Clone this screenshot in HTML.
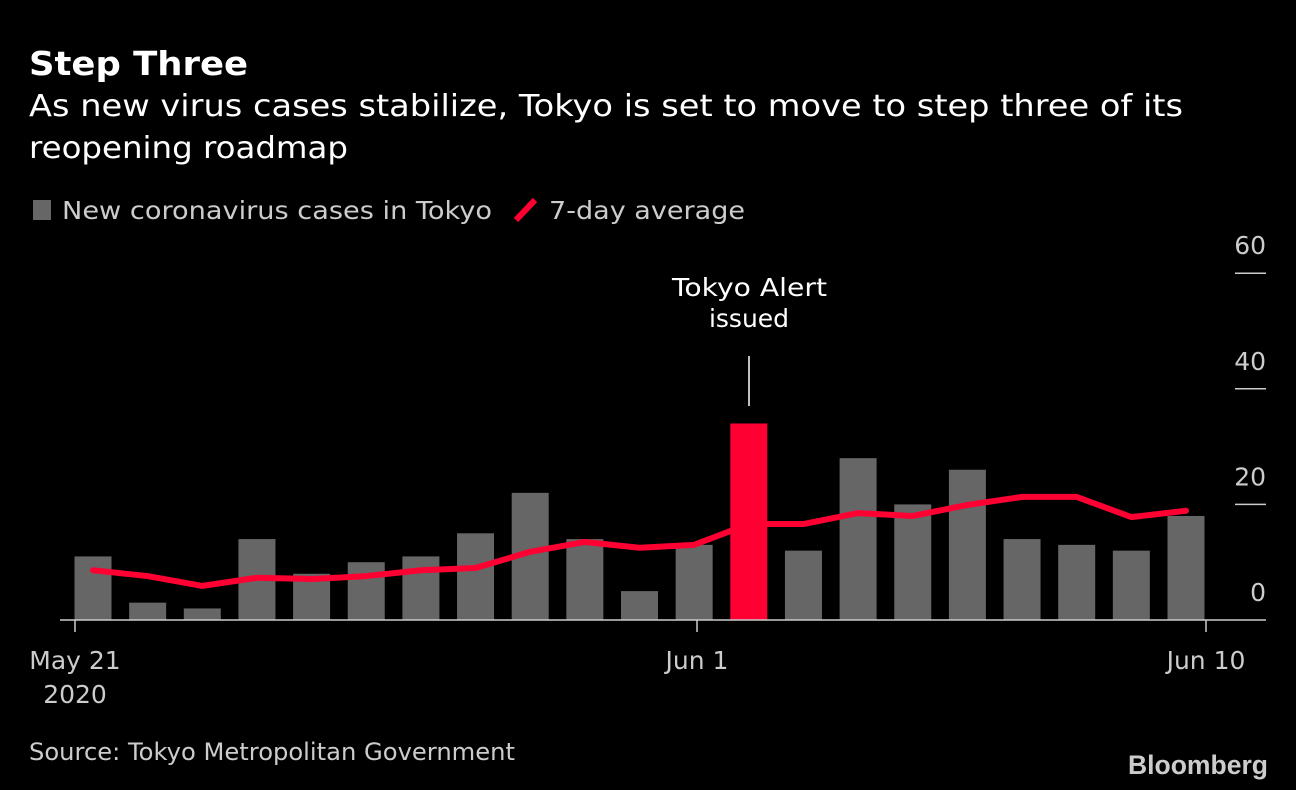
<!DOCTYPE html>
<html><head><meta charset="utf-8"><style>
html,body{margin:0;padding:0;background:#000;}
body{width:1296px;height:790px;overflow:hidden;font-family:"DejaVu Sans","Liberation Sans",sans-serif;color:#fff;}
</style></head><body>
<svg width="1296" height="790" style="position:absolute;left:0;top:0" font-family="DejaVu Sans, Liberation Sans, sans-serif">
<text x="29" y="75" font-size="33" font-weight="bold" fill="#fff" textLength="219" lengthAdjust="spacingAndGlyphs">Step Three</text>
<text x="29" y="116" font-size="30" fill="#fff" textLength="1154" lengthAdjust="spacingAndGlyphs">As new virus cases stabilize, Tokyo is set to move to step three of its</text>
<text x="29" y="158" font-size="30" fill="#fff" textLength="319" lengthAdjust="spacingAndGlyphs">reopening roadmap</text>
<rect x="33" y="200" width="18" height="20" fill="#666"/>
<text x="62" y="219" font-size="25" fill="#ccc" textLength="430" lengthAdjust="spacingAndGlyphs">New coronavirus cases in Tokyo</text>
<line x1="516" y1="220" x2="535" y2="200" stroke="#ff0033" stroke-width="6"/>
<text x="549" y="219" font-size="25" fill="#ccc" textLength="196" lengthAdjust="spacingAndGlyphs">7-day average</text>
<g id="plot"></g>
<text x="672" y="296" font-size="25" fill="#fff" textLength="155" lengthAdjust="spacingAndGlyphs">Tokyo Alert</text>
<text x="749" y="327" font-size="25" fill="#fff" text-anchor="middle">issued</text>
<line x1="749" y1="356" x2="749" y2="406" stroke="#fff" stroke-width="1.5"/>
<text x="29" y="760" font-size="24" fill="#ccc" textLength="486" lengthAdjust="spacingAndGlyphs">Source: Tokyo Metropolitan Government</text>
<text x="1128" y="774" font-size="27" font-weight="bold" fill="#ccc" textLength="140" lengthAdjust="spacingAndGlyphs" font-family="Liberation Sans, sans-serif">Bloomberg</text>
</svg>
<script>
const categories=["May 21","May 22","May 23","May 24","May 25","May 26","May 27","May 28","May 29","May 30","May 31","Jun 1","Jun 2","Jun 3","Jun 4","Jun 5","Jun 6","Jun 7","Jun 8","Jun 9","Jun 10"];
const cases=[11,3,2,14,8,10,11,15,22,14,5,13,34,12,28,20,26,14,13,12,18];
const average=[8.6,7.6,5.9,7.3,7.1,7.6,8.6,9,11.8,13.5,12.5,13,16.6,16.6,18.5,18,19.9,21.3,21.3,17.8,18.9];
const yTicks=[0,20,40,60];
const highlight="Jun 2";
const xLabels=[["May 21",75],["Jun 1",697],["Jun 10",1206]];
const NS="http://www.w3.org/2000/svg";
const g=document.getElementById('plot');
const x=i=>93+i*54.65;
const y=v=>620-v*5.78;
function mk(t,a){const e=document.createElementNS(NS,t);for(const k in a)e.setAttribute(k,a[k]);g.appendChild(e);return e;}
yTicks.forEach(v=>{
 if(v>0){const l=mk('line',{x1:1235,x2:1266,y1:y(v),y2:y(v),stroke:'#ccc','stroke-width':1.5});
 
 }
 const t=mk('text',{x:1266,y:y(v)-19,'font-size':25,fill:'#ccc','text-anchor':'end'});t.textContent=v;
 
 
});
cases.forEach((v,i)=>{
 const r=mk('rect',{x:x(i)-18.5,y:y(v),width:37,height:y(0)-y(v),fill:categories[i]===highlight?'#ff0033':'#666'});
 
 
});
const base=mk('line',{x1:60,x2:1266,y1:620,y2:620,stroke:'#ccc','stroke-width':1.5});


xLabels.forEach(([lab,px])=>{
 const tk=mk('line',{x1:px,x2:px,y1:620,y2:632,stroke:'#ccc','stroke-width':1.5});
 
 
 const t=mk('text',{x:px,y:669,'font-size':25,fill:'#ccc','text-anchor':'middle'});t.textContent=lab;
 
 
});
const yr=mk('text',{x:75,y:703,'font-size':25,fill:'#ccc','text-anchor':'middle'});yr.textContent="2020";


const p=mk('polyline',{points:average.map((v,i)=>x(i)+','+y(v)).join(' '),fill:'none',stroke:'#ff0033','stroke-width':6,'stroke-linejoin':'round','stroke-linecap':'round'});


</script>
</body></html>
